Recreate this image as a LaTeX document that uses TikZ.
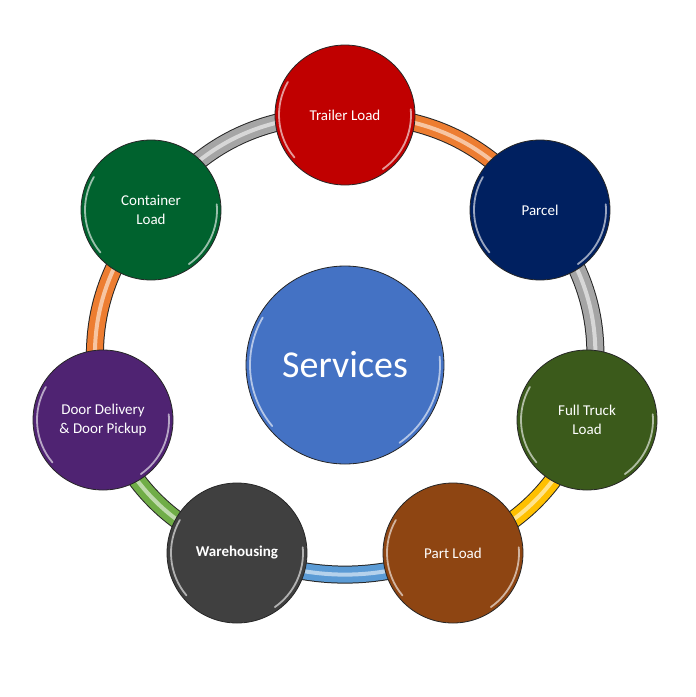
\documentclass[tikz,border=0pt]{standalone}
\usepackage{fontspec}
\setmainfont{Carlito}
\usetikzlibrary{backgrounds}
\definecolor{ballRed}{HTML}{C00000}
\definecolor{ballNavy}{HTML}{002060}
\definecolor{ballOlive}{HTML}{3B5A1B}
\definecolor{ballBrown}{HTML}{8E4512}
\definecolor{ballGray}{HTML}{404040}
\definecolor{ballPurple}{HTML}{4F2372}
\definecolor{ballGreen}{HTML}{00622E}
\definecolor{ballBlue}{HTML}{4472C4}
\definecolor{ringOrange}{HTML}{ED7D31}
\definecolor{ringGray}{HTML}{A5A5A5}
\definecolor{ringGold}{HTML}{FFC000}
\definecolor{ringBlue}{HTML}{5B9BD5}
\definecolor{ringGreen}{HTML}{70AD47}
\begin{document}
\begin{tikzpicture}[x=1pt,y=1pt,
	ball/.style={circle,draw=black!85,line width=0.8,minimum size=140,inner sep=0,text=white,align=center,font=\fontsize{15}{19}\selectfont,fill=#1},
	band/.style={draw=black!85,line width=18,postaction={draw=#1,line width=16},postaction={draw=#1!45!white,line width=4}},
	shine/.style={white,line width=1.8,opacity=.6,line cap=round}]
	\useasboundingbox (0,0) rectangle (696,-697);
	\node[ball=ballRed] (trailer) at (345,-115) {Trailer Load};
	\node[ball=ballNavy] (parcel) at (540,-210) {Parcel};
	\node[ball=ballOlive] (truck) at (587,-420) {Full Truck\\Load};
	\node[ball=ballBrown] (part) at (453,-553) {Part Load};
	\node[ball=ballGray,font=\fontsize{15}{19}\selectfont\bfseries] (ware) at (237,-553) {Warehousing};
	\node[ball=ballPurple] (door) at (103,-420) {Door Delivery\\\& Door Pickup};
	\node[ball=ballGreen] (container) at (151,-210) {Container\\Load};
	\node[ball=ballBlue,minimum size=198,font=\fontsize{38}{44}\selectfont] (services) at (345,-365) {Services};
	\foreach \n/\r in {trailer/66,parcel/66,truck/66,part/66,ware/66,door/66,container/66,services/95} {
		\draw[shine] ([shift={(220:\r)}]\n.center) arc (220:150:\r);
		\draw[shine] ([shift={(-55:\r)}]\n.center) arc (-55:5:\r);
	}
	\begin{pgfonlayer}{background}
		\draw[band=ringOrange] (trailer.center) to[bend left=26] (parcel.center);
		\draw[band=ringGray] (parcel.center) to[bend left=26] (truck.center);
		\draw[band=ringGold] (truck.center) to[bend left=22] (part.center);
		\draw[band=ringBlue] (part.center) to[bend left=20] (ware.center);
		\draw[band=ringGreen] (ware.center) to[bend left=22] (door.center);
		\draw[band=ringOrange] (door.center) to[bend left=26] (container.center);
		\draw[band=ringGray] (container.center) to[bend left=26] (trailer.center);
	\end{pgfonlayer}
\end{tikzpicture}
\end{document}
